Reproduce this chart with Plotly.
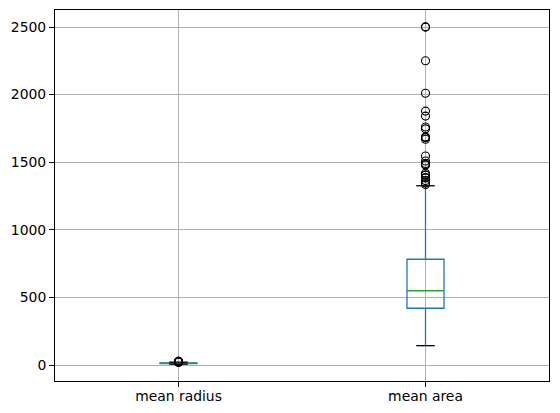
import plotly.graph_objects as go

categories = ["mean radius", "mean area"]
q1 = [11.70, 420.3]
median = [13.37, 551.1]
q3 = [15.78, 782.7]
lower_whisker = [6.981, 143.5]
upper_whisker = [21.71, 1326.0]
outliers_radius = [25.22, 22.27, 24.25, 23.27, 27.22, 23.29, 28.11, 23.21, 23.51,
                   25.73, 22.01, 27.42, 23.09, 24.63]
outliers_area = [1404, 1878, 1509, 1761, 1686, 2250, 1685, 1384, 1747, 2010, 1546,
                 1482, 1386, 1335, 1407, 1419, 1491, 1670, 1364, 2499, 1841, 1682,
                 2501, 1347, 1479]
outliers = [outliers_radius, outliers_area]
y_ticks = [0, 500, 1000, 1500, 2000, 2500]

BOX_W = 0.15
CAP_W = BOX_W / 2
blue = "#1f77b4"
green = "#2ca02c"

fig = go.Figure()
positions = [i + 1 for i in range(len(categories))]

for i, pos in enumerate(positions):
    fig.add_trace(go.Box(
        x=[pos], q1=[q1[i]], median=[median[i]], q3=[q3[i]],
        lowerfence=[lower_whisker[i]], upperfence=[upper_whisker[i]],
        width=BOX_W, whiskerwidth=0, boxpoints=False,
        line=dict(color=blue, width=1.3), fillcolor="rgba(0,0,0,0)",
        showlegend=False, hoverinfo="skip",
    ))
    # median (green)
    fig.add_trace(go.Scatter(
        x=[pos - BOX_W / 2, pos + BOX_W / 2], y=[median[i], median[i]],
        mode="lines", line=dict(color=green, width=1.3), showlegend=False,
    ))
    # caps (black)
    for v in (lower_whisker[i], upper_whisker[i]):
        fig.add_trace(go.Scatter(
            x=[pos - CAP_W / 2, pos + CAP_W / 2], y=[v, v],
            mode="lines", line=dict(color="black", width=1.3), showlegend=False,
        ))
    # fliers
    fig.add_trace(go.Scatter(
        x=[pos] * len(outliers[i]), y=outliers[i], mode="markers",
        marker=dict(symbol="circle-open", size=8, color="black",
                    line=dict(width=1.1, color="black")),
        showlegend=False,
    ))

axis_common = dict(
    showline=True, linecolor="black", linewidth=1, mirror=True,
    ticks="outside", ticklen=5, tickcolor="black", tickwidth=1,
    showgrid=True, gridcolor="#b0b0b0", gridwidth=1, zeroline=False,
    tickfont=dict(family="DejaVu Sans", size=13.9, color="black"),
)

fig.update_layout(
    width=544, height=397,
    margin=dict(l=47, r=3, t=2, b=24, autoexpand=False),
    paper_bgcolor="white", plot_bgcolor="white",
    xaxis=dict(range=[0.5, 2.5], tickvals=positions, ticktext=categories,
               ticklabelstandoff=-3, **axis_common),
    yaxis=dict(range=[-117.7, 2625.7], tickvals=y_ticks, ticktext=[str(t) for t in y_ticks],
               **axis_common),
)

fig.write_html("out.html")
